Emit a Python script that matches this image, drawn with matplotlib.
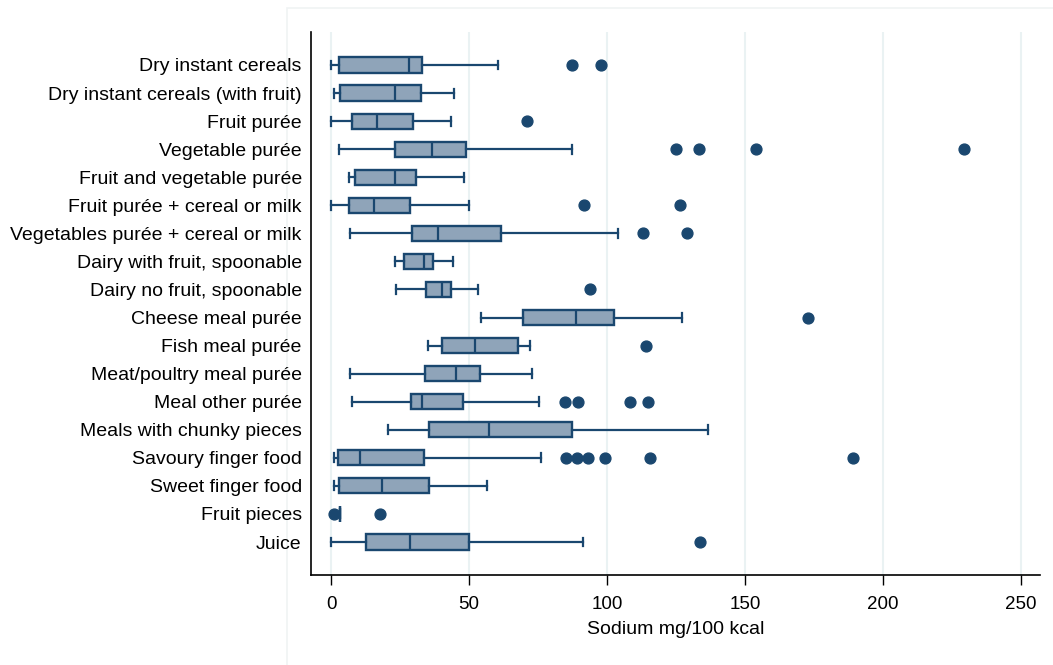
import matplotlib.pyplot as plt
from matplotlib.patches import Rectangle

# Categorías (de arriba a abajo)
categorias = ["Dry instant cereals", "Dry instant cereals (with fruit)", "Fruit purée",
              "Vegetable purée", "Fruit and vegetable purée", "Fruit purée + cereal or milk",
              "Vegetables purée + cereal or milk", "Dairy with fruit, spoonable",
              "Dairy no fruit, spoonable", "Cheese meal purée", "Fish meal purée",
              "Meat/poultry meal purée", "Meal other purée", "Meals with chunky pieces",
              "Savoury finger food", "Sweet finger food", "Fruit pieces", "Juice"]

# Estadísticas de cada caja (mg/100 kcal)
bigote_inf = [0, 1.1, 0, 2.7, 6.6, 0, 6.8, 23.2, 23.6, 54.2, 35.1, 6.9, 7.5, 20.8, 1.1, 1.2, 3.3, 0]
q1 = [2.8, 3.3, 7.4, 23.1, 8.8, 6.5, 29.5, 26.3, 34.5, 69.7, 40.1, 33.9, 29.0, 35.6, 2.5, 2.7, 3.3, 12.7]
mediana = [28.1, 23.1, 16.7, 36.6, 23.2, 15.5, 38.6, 33.6, 40.3, 88.7, 52.1, 45.4, 32.9, 57.4, 10.4, 18.4, 3.3, 28.6]
q3 = [32.8, 32.5, 29.8, 48.9, 30.8, 28.6, 61.7, 36.8, 43.6, 102.5, 67.6, 54.1, 47.7, 87.4, 33.7, 35.6, 3.3, 50.1]
bigote_sup = [60.6, 44.4, 43.4, 87.3, 48.1, 50.1, 104.0, 44.2, 53.3, 127.2, 72.0, 72.9, 75.2, 136.6, 76.2, 56.6, 3.3, 91.2]
atipicos = [[87.3, 97.7], [], [71.1], [125.0, 133.4, 154.1, 229.3], [], [91.8, 126.6],
            [113.2, 128.9], [], [94.0], [172.7], [114.1], [], [84.8, 89.4, 108.2, 114.7], [],
            [85.0, 89.0, 93.0, 99.4, 115.7, 189.0], [], [1.1, 17.8], [133.6]]

marcas_x = [0, 50, 100, 150, 200, 250]

azul = '#1a476f'
relleno = '#8fa4b9'
rejilla = '#eaf2f3'

plt.rcParams['font.family'] = ['Liberation Sans', 'DejaVu Sans']

fig = plt.figure(figsize=(10.53, 6.65), dpi=100)
ax = fig.add_axes([311.5 / 1053, 1 - 575 / 665, (1040 - 311.5) / 1053, (575 - 32) / 665])

# Marco tenue del área del gráfico (detrás de todo)
marco = Rectangle((287 / 1053, -0.01), 0.75, 1 - 8 / 665 + 0.01,
                  transform=fig.transFigure, fill=False,
                  edgecolor='#f0f3f4', linewidth=1.2, zorder=-5)
fig.patches.append(marco)

stats = []
for i in range(len(categorias)):
    stats.append({'whislo': bigote_inf[i], 'q1': q1[i], 'med': mediana[i], 'q3': q3[i],
                  'whishi': bigote_sup[i], 'fliers': atipicos[i], 'label': categorias[i]})

pos = list(range(1, len(categorias) + 1))
ax.bxp(stats, positions=pos, orientation='horizontal', widths=0.54, capwidths=0.32,
       patch_artist=True,
       boxprops=dict(facecolor=relleno, edgecolor=azul, linewidth=1.7),
       medianprops=dict(color=azul, linewidth=1.6),
       whiskerprops=dict(color=azul, linewidth=1.6),
       capprops=dict(color=azul, linewidth=1.6),
       flierprops=dict(marker='o', markerfacecolor=azul, markeredgecolor=azul,
                       markersize=7.8, linestyle='none'))

ax.set_xlim(-7.1, 256.9)
ax.set_ylim(len(categorias) + 1.176, -0.176)
ax.set_xticks(marcas_x)
ax.set_xticklabels([str(v) for v in marcas_x])
ax.set_yticks(pos)
ax.set_yticklabels(categorias)
ax.patch.set_alpha(0)

ax.grid(axis='x', color=rejilla, linewidth=1.5)
ax.set_axisbelow(True)
for lado in ['top', 'right']:
    ax.spines[lado].set_visible(False)
for lado in ['left', 'bottom']:
    ax.spines[lado].set_color('black')
    ax.spines[lado].set_linewidth(1.2)

ax.tick_params(axis='y', length=0, pad=7, labelsize=14)
ax.tick_params(axis='x', length=7, width=1, pad=8, labelsize=13.5)
ax.set_xlabel('Sodium mg/100 kcal', fontsize=14, labelpad=6)

fig.savefig('out.png', dpi=100)
